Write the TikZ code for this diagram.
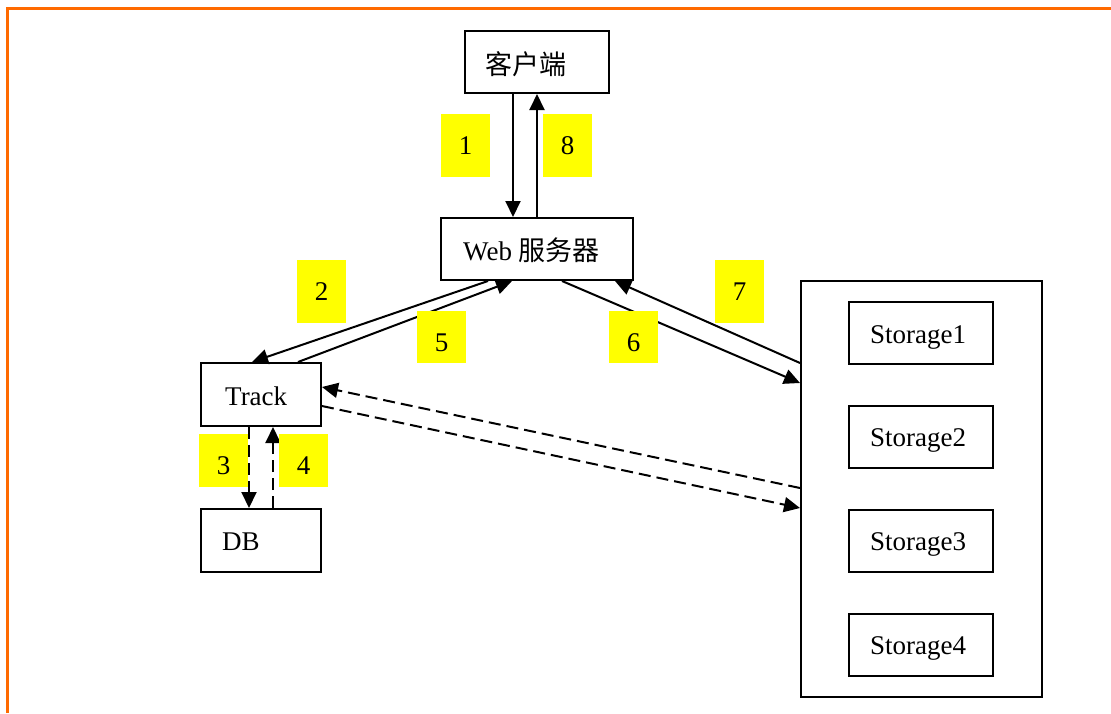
\documentclass[tikz,border=0pt]{standalone}
\usepackage{fontspec}
\setmainfont{Liberation Serif}
\newfontfamily\cjkfont{Noto Sans CJK SC}
\usetikzlibrary{arrows.meta,calc}
\definecolor{frameorange}{HTML}{FF6A00}
\definecolor{tagyellow}{HTML}{FFFF00}
\begin{document}
\begin{tikzpicture}[x=1pt,y=-1pt,
  box/.style={draw,line width=2pt,rectangle,inner sep=0pt},
  txt/.style={anchor=base west,inner sep=0pt,font=\fontsize{27}{32}\selectfont},
  tag/.style={fill=tagyellow,anchor=north,inner xsep=0pt,inner ysep=0pt,minimum width=49pt,text height=40.5pt,font=\fontsize{27}{32}\selectfont},
  arr/.style={line width=2pt,-{Triangle[length=16pt,width=15pt]}},
  darr/.style={arr,dash pattern=on 12pt off 6pt}]
\useasboundingbox (0,0) rectangle (1111,713);
\draw[frameorange,line width=3pt,line join=miter] (7.5,713) -- (7.5,8.5) -- (1111,8.5);

% boxes
\node[box,minimum width=144pt,minimum height=62pt] (client) at (537,62) {};
\node[txt] (clientT) at (485,74) {\cjkfont 客户端};
\node[box,minimum width=192pt,minimum height=62pt] (web) at (537,249) {};
\node[txt] (webT) at (463,260) {Web {\cjkfont 服务器}};
\node[box,minimum width=120pt,minimum height=63pt] (track) at (261,394.5) {};
\node[txt] (trackT) at (225,405) {Track};
\node[box,minimum width=120pt,minimum height=63pt] (db) at (261,540.5) {};
\node[txt] (dbT) at (222,550) {DB};
\node[box,minimum width=241pt,minimum height=416pt] (store) at (921.5,489) {};
\node[box,minimum width=144pt,minimum height=62pt] (s1) at (921,333) {};
\node[txt] (s1T) at (870,343) {Storage1};
\node[box,minimum width=144pt,minimum height=62pt] (s2) at (921,436.5) {};
\node[txt] (s2T) at (870,446.5) {Storage2};
\node[box,minimum width=144pt,minimum height=62pt] (s3) at (921,540.5) {};
\node[txt] (s3T) at (870,550.5) {Storage3};
\node[box,minimum width=144pt,minimum height=62pt] (s4) at (921,644.5) {};
\node[txt] (s4T) at (870,654.5) {Storage4};

% connectors
\draw[arr] ($(client.south)+(-24,0)$) -- ($(web.north)+(-24,0)$);
\draw[arr] (web.north) -- (client.south);
\draw[arr] ($(web.south)+(-49,0)$) -- ($(track.north)+(-9,0)$);
\draw[arr] ($(track.north)+(37,0)$) -- ($(web.south)+(-25,0)$);
\draw[arr] ($(web.south)+(25,0)$) -- ($(store.west)+(0,-106)$);
\draw[arr] ($(store.west)+(0,-126)$) -- ($(web.south)+(78,0)$);
\draw[darr] ($(store.west)+(0,-1)$) -- ($(track.east)+(0,-7.5)$);
\draw[darr] ($(track.east)+(0,11.5)$) -- ($(store.west)+(0,19)$);
\draw[darr] ($(track.south)+(-12,0)$) -- ($(db.north)+(-12,0)$);
\draw[darr] ($(db.north)+(12,0)$) -- ($(track.south)+(12,0)$);

% step tags
\node[tag,text depth=22.5pt] (t1) at (465.5,114) {1};
\node[tag,text depth=22.5pt] (t8) at (567.5,114) {8};
\node[tag,text depth=22.5pt] (t2) at (321.5,260) {2};
\node[tag,text depth=22.5pt] (t7) at (739.5,260) {7};
\node[tag,text depth=11.5pt] (t5) at (441.5,311) {5};
\node[tag,text depth=11.5pt] (t6) at (633.5,311) {6};
\node[tag,text depth=12.5pt] (t3) at (223.5,434) {3};
\node[tag,text depth=12.5pt] (t4) at (303.5,434) {4};
\end{tikzpicture}
\end{document}
